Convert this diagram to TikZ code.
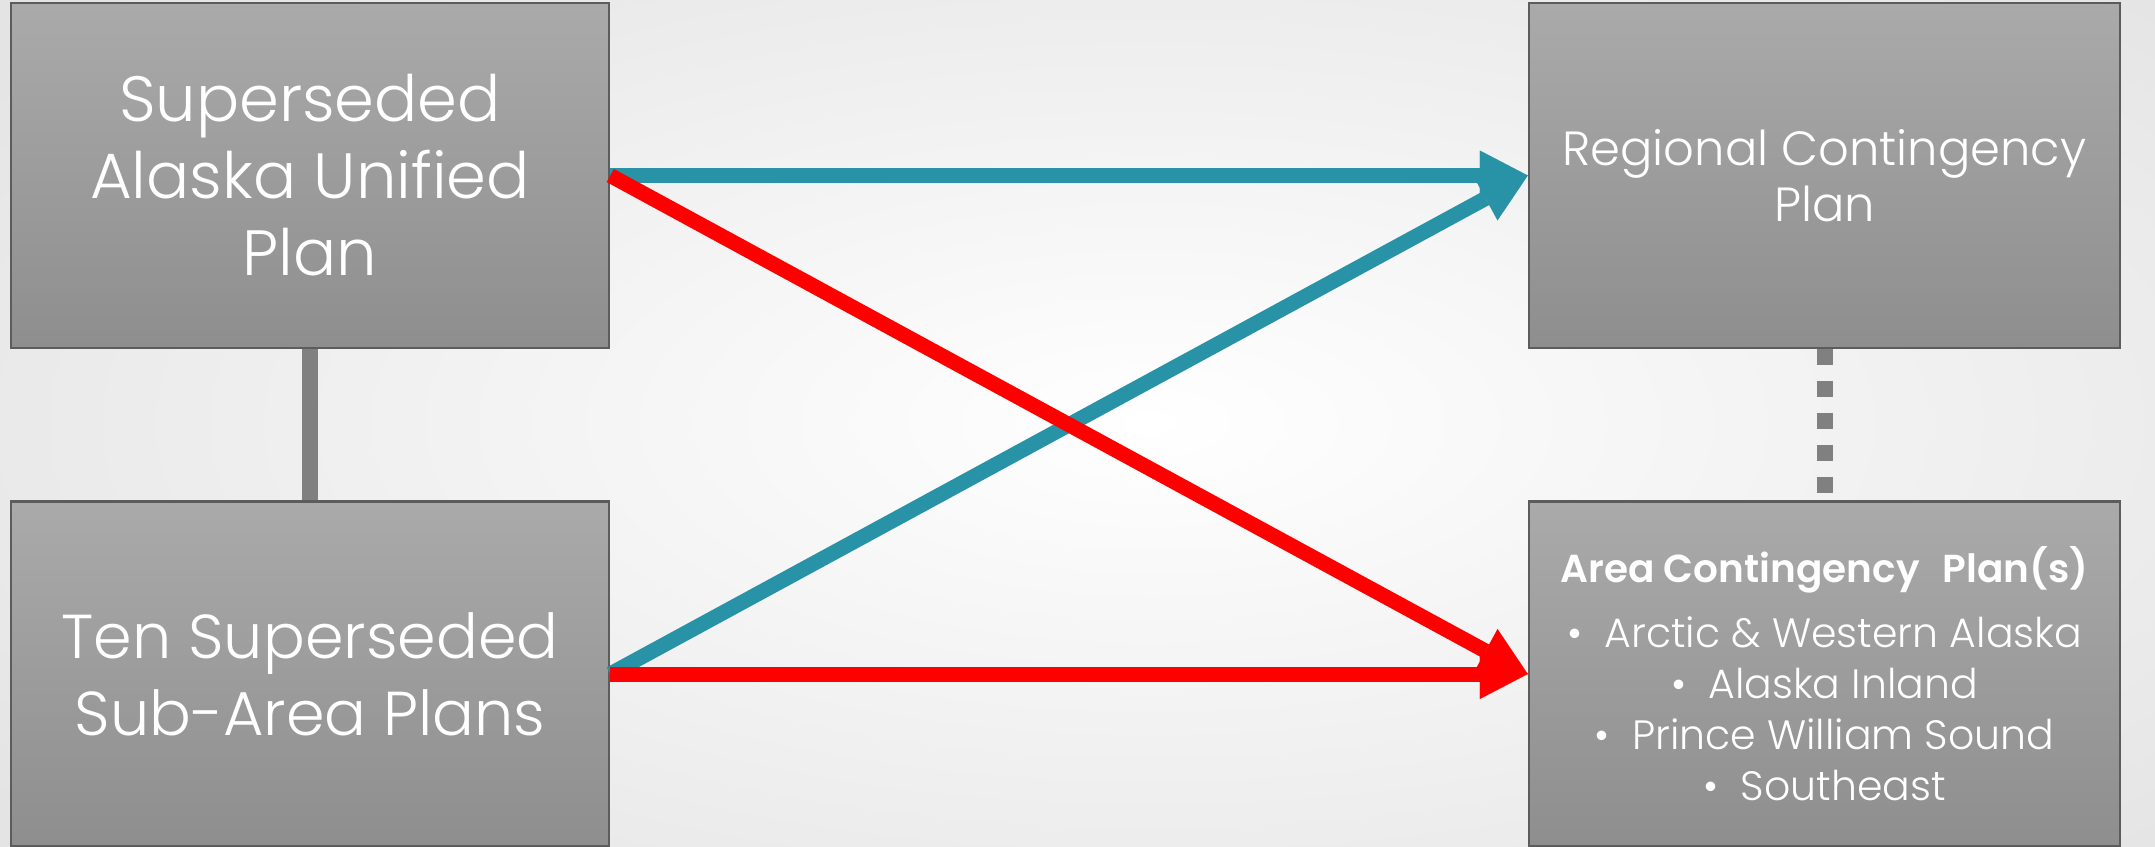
\documentclass[tikz,border=0pt]{standalone}
\usepackage{fontspec}
\IfFontExistsTF{Poppins Light}{\setmainfont{Poppins Light}[BoldFont={Poppins SemiBold}]}{\setmainfont{Poppins}}
\usetikzlibrary{arrows.meta}
\definecolor{tealarrow}{HTML}{2892A6}
\definecolor{redarrow}{HTML}{FF0000}
\definecolor{boxtop}{HTML}{AAAAAA}
\definecolor{boxbot}{HTML}{8E8E8E}
\definecolor{boxline}{HTML}{5C5C5C}
\definecolor{connline}{HTML}{808080}
\definecolor{bgedge}{HTML}{E4E4E4}
\tikzset{
  planbox/.style={draw=boxline, line width=2.5pt, top color=boxtop, bottom color=boxbot,
    minimum width=598pt, minimum height=345pt, inner sep=0pt, text=white, align=center},
  bigarrow/.style={line width=15pt, -{Triangle[length=48pt,width=50pt,line width=0.01pt]}},
}
\begin{document}
\begin{tikzpicture}[x=1pt,y=-1pt]
\useasboundingbox (0,0) rectangle (2155,846);
\shade[inner color=white, outer color=bgedge] (-300,-200) rectangle (2600,1046);
% boxes
\node[planbox, font={\fontsize{64}{77}\selectfont}] (b1) at (310,175.5) {Superseded\\Alaska Unified\\Plan};
\node[planbox, font={\fontsize{62}{77}\selectfont}] (b2) at (310,674) {Ten Superseded\\Sub-Area Plans};
\node[planbox, minimum width=591pt, font={\fontsize{48}{56}\selectfont}] (b3) at (1824.5,175.5) {Regional Contingency\\Plan};
\node[planbox, minimum width=591pt, font={\fontsize{41}{51}\selectfont}] (b4) at (1824.5,674) {%
  \textbf{\fontsize{39}{51}\selectfont Area Contingency\hspace{0.35em} Plan(s)}\\[14pt]
  •\ \ Arctic \& Western Alaska\\
  •\ \ Alaska Inland\\
  •\ \ Prince William Sound\\
  •\ \ Southeast};
% connectors between boxes
\draw[connline, line width=16pt] (b1.south) -- (b2.north);
\draw[connline, line width=16pt, dash pattern=on 16pt off 16pt] (b3.south) -- (b4.north);
% arrows
\draw[tealarrow, bigarrow] (b1.east) -- (b3.west);
\draw[tealarrow, bigarrow] (b2.east) -- (b3.west);
\draw[redarrow, bigarrow] (b1.east) -- (b4.west);
\draw[redarrow, bigarrow] (b2.east) -- (b4.west);
\end{tikzpicture}
\end{document}
